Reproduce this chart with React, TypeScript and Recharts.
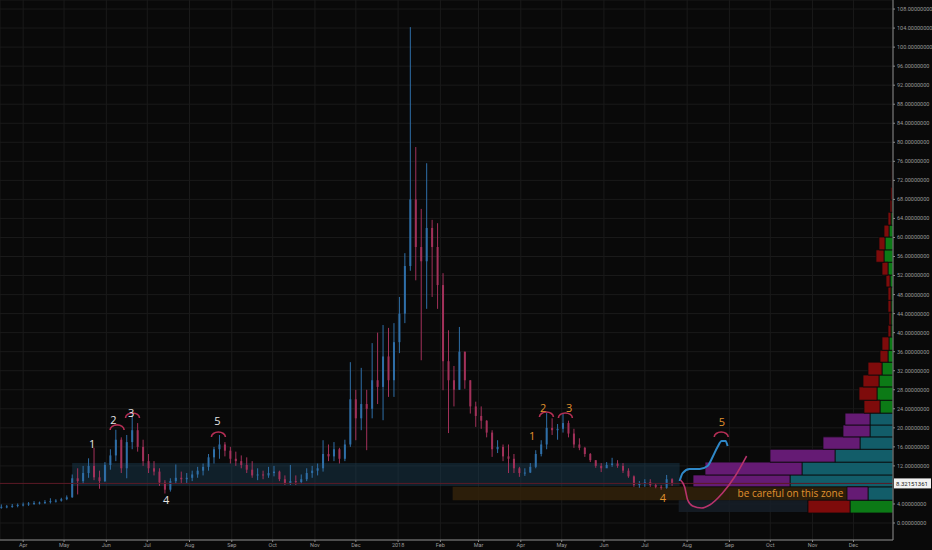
import { ComposedChart, Bar, Line, XAxis, YAxis, CartesianGrid, ReferenceArea, ReferenceLine, ReferenceDot } from 'recharts';

// time axis: days counted from 2017-04-01, one candle every 4 days
const candleStart = -16;
const candleStep = 4;
const firstOpen = 3.3;
const dayDomain = [-17, 638];

const highs = [
  3.9, 3.8, 4.0, 4.1, 4.3, 4.4, 4.6, 4.5, 4.8, 5.2, 5.0, 5.3, 5.8, 10.2, 11.5, 12.0, 13.6, 15.8, 11.0, 12.8,
  15.5, 19.6, 18.0, 18.5, 22.7, 21.0, 17.5, 14.5, 13.0, 11.5, 9.0, 9.4, 12.3, 10.8, 10.5, 11.0, 11.8, 12.5, 14.5, 16.0,
  18.5, 17.0, 16.0, 15.0, 14.2, 13.8, 13.0, 11.5, 11.0, 11.8, 12.0, 11.0, 10.0, 12.2, 10.0, 10.2, 11.5, 12.0, 12.5, 17.4,
  16.5, 17.0, 15.8, 17.5, 33.8, 28.0, 32.6, 28.0, 37.8, 40.0, 41.6, 41.0, 42.0, 47.5, 56.7, 104.2, 79.0, 66.0, 75.6, 63.7,
  63.0, 52.5, 40.5, 33.0, 41.2, 36.0, 30.0, 25.5, 24.5, 21.6, 19.5, 17.4, 16.5, 16.5, 14.5, 11.8, 11.5, 12.6, 15.3, 17.4,
  23.1, 22.0, 20.8, 23.1, 21.5, 19.8, 17.8, 16.0, 14.7, 13.2, 12.6, 12.8, 13.7, 13.2, 12.6, 11.5, 10.0, 8.8, 9.2, 9.2,
  8.4, 8.0, 10.1, 9.4,
];
const lows = [
  3.0, 3.1, 3.2, 3.3, 3.5, 3.6, 3.8, 3.9, 4.0, 4.1, 4.3, 4.5, 4.8, 5.3, 6.0, 8.2, 9.5, 9.0, 7.2, 8.6,
  11.2, 13.0, 10.5, 9.4, 15.5, 15.0, 12.0, 10.5, 10.0, 7.8, 6.2, 6.6, 8.2, 8.4, 8.3, 8.8, 9.5, 10.0, 11.0, 12.5,
  13.5, 14.0, 12.5, 12.0, 11.5, 10.5, 9.5, 9.0, 9.2, 9.5, 9.8, 8.8, 8.0, 8.0, 8.0, 8.2, 8.8, 9.5, 10.0, 10.8,
  13.0, 13.0, 12.5, 13.0, 16.0, 17.4, 19.5, 15.3, 22.0, 25.0, 21.6, 26.5, 26.5, 35.7, 42.0, 53.0, 51.0, 34.2, 45.0, 47.5,
  45.0, 27.9, 18.9, 24.5, 28.0, 28.2, 23.0, 20.2, 19.8, 18.0, 13.9, 14.7, 13.0, 10.5, 10.5, 9.7, 9.9, 10.5, 11.5, 14.0,
  15.5, 18.5, 17.5, 19.0, 18.0, 15.8, 15.3, 13.9, 12.8, 11.6, 10.7, 11.6, 11.8, 11.6, 10.5, 9.5, 7.6, 7.4, 7.6, 7.6,
  7.3, 7.0, 7.2, 7.8,
];
const closes = [
  3.4, 3.5, 3.6, 3.8, 3.9, 4.1, 4.2, 4.3, 4.4, 4.6, 4.7, 5.0, 5.4, 9.4, 8.8, 10.5, 12.0, 9.6, 8.8, 12.2,
  14.2, 17.5, 11.5, 17.0, 19.5, 16.0, 13.0, 11.5, 10.8, 8.5, 7.0, 8.8, 9.5, 9.2, 9.5, 10.2, 11.0, 11.8, 13.8, 15.5,
  16.5, 15.2, 13.5, 13.0, 12.2, 11.2, 10.0, 10.2, 10.0, 10.5, 10.8, 9.2, 8.4, 8.8, 8.6, 9.2, 10.5, 11.0, 11.5, 14.5,
  14.0, 15.5, 13.5, 16.5, 26.0, 22.0, 25.0, 24.0, 30.0, 28.6, 35.0, 30.0, 38.0, 44.0, 54.0, 68.0, 58.0, 55.0, 62.0, 58.0,
  50.0, 34.0, 30.0, 28.0, 36.0, 30.0, 24.5, 22.5, 21.5, 19.0, 15.5, 16.0, 14.0, 13.5, 11.5, 10.5, 10.6, 11.8, 14.5, 16.5,
  20.0, 19.5, 19.8, 21.0, 18.8, 16.5, 15.8, 14.5, 13.2, 12.0, 11.5, 12.2, 12.5, 12.0, 11.0, 9.8, 8.0, 8.2, 8.6, 8.0,
  7.6, 7.4, 9.2, 8.3,
];
const lastPrice = 8.32151361;

const monthTicks = [0, 30, 61, 91, 122, 153, 183, 214, 244, 275, 306, 334, 365, 395, 426, 456, 487, 518, 548, 579, 609];
const monthLabels = ['Apr', 'May', 'Jun', 'Jul', 'Aug', 'Sep', 'Oct', 'Nov', 'Dec', '2018', 'Feb', 'Mar', 'Apr', 'May', 'Jun', 'Jul', 'Aug', 'Sep', 'Oct', 'Nov', 'Dec'];
// 8 is hidden behind the last-price tag
const priceTicks = [0, 4, 12, 16, 20, 24, 28, 32, 36, 40, 44, 48, 52, 56, 60, 64, 68, 72, 76, 80, 84, 88, 92, 96, 100, 104, 108];

// volume profile rows (price bin edges), right-aligned; volume unit = one pixel of width
const profileEdges = [2.1, 4.8, 7.6, 10.1, 12.8, 15.5, 18.1, 20.6, 23.1, 25.8, 28.6, 31.1, 33.8, 36.3, 39.1, 41.6, 44.3, 46.8, 49.6, 52.1, 54.8, 57.4, 60.1, 62.6, 65.3, 67.9, 70.6, 73.2, 75.8];
const profileUp = [43, 25, 103, 91, 58, 33, 23, 23, 13, 16, 14, 11, 5, 4, 2, 2, 2, 2, 3, 5, 9, 8, 4, 2, 1, 0.7, 0.5, 0.5];
const profileDown = [42, 21, 97, 97, 65, 37, 27, 25, 16, 18, 16, 14, 8, 7, 3, 2, 3, 3, 4, 6, 8, 6, 5, 3, 2, 1.5, 1, 1];
const profileSession = ['old', 'new', 'new', 'new', 'new', 'new', 'new', 'new', 'old', 'old', 'old', 'old', 'old', 'old', 'old', 'old', 'old', 'old', 'old', 'old', 'old', 'old', 'old', 'old', 'old', 'old', 'old', 'old'];

// zones [t1, t2, v1, v2]
const blueZone = [35.9, 481.5, 7.8, 12.6];
const brownZone = [315, 638, 4.8, 7.6];
const darkZone = [480.8, 575.3, 2.3, 4.8];

// hand-drawn marks
const whiteNums = ['1', '2', '3', '4', '5'];
const whiteNumT = [50.6, 66.2, 79.2, 104.8, 142.4];
const whiteNumV = [16.8, 21.8, 23.3, 5.0, 21.6];
const orangeNums = ['1', '2', '3', '4', '5'];
const orangeNumT = [373.3, 381.3, 400.4, 469.3, 512.5];
const orangeNumV = [18.3, 24.3, 24.3, 5.4, 21.4];
const arcT = [68.9, 80.2, 143.2, 383.8, 397.7, 512];
const arcV = [20.2, 22.7, 18.7, 22.9, 22.7, 18.7];
const blueCurve = [
  { t: 481.5, v: 8.82 }, { t: 483.7, v: 10.5 }, { t: 488.8, v: 11.34 }, { t: 496.2, v: 11.34 }, { t: 502.0, v: 11.97 },
  { t: 505.7, v: 13.87 }, { t: 509.3, v: 15.97 }, { t: 512.3, v: 17.23 }, { t: 515.2, v: 17.23 }, { t: 516.7, v: 16.18 },
];
const pinkCurve = [
  { t: 482.2, v: 9.03 }, { t: 485.2, v: 7.56 }, { t: 487.4, v: 4.83 }, { t: 491.0, v: 3.57 }, { t: 497.6, v: 3.15 },
  { t: 503.5, v: 3.78 }, { t: 513.0, v: 6.3 }, { t: 521.8, v: 9.66 }, { t: 530.6, v: 14.08 },
];
const zoneNote = { t: 524, v: 6.37, text: 'be careful on this zone' };

const PLOT_W = 893;
const daysPerVol = (dayDomain[1] - dayDomain[0]) / PLOT_W;

const UP = '#2f6fa8';
const DOWN = '#a2315a';
const ORANGE = '#e0922e';

const candles = closes.map((c, i) => ({
  t: candleStart + i * candleStep,
  range: [lows[i], highs[i]],
  open: i === 0 ? firstOpen : closes[i - 1],
  close: c,
}));

const Candle = (props: any) => {
  const { x, y, width, height, payload } = props;
  if (payload == null) return null;
  const [lo, hi] = payload.range;
  const top = Math.min(y, y + height);
  const bot = Math.max(y, y + height);
  const span = hi - lo || 1;
  const toY = (v: number) => top + ((hi - v) / span) * (bot - top);
  const up = payload.close >= payload.open;
  const color = up ? UP : DOWN;
  const cx = x + width / 2;
  const bTop = toY(Math.max(payload.open, payload.close));
  const bBot = toY(Math.min(payload.open, payload.close));
  return (
    <g>
      <line x1={cx} x2={cx} y1={top} y2={bot} stroke={color} strokeWidth={1} />
      <rect x={cx - 1} y={bTop} width={2} height={Math.max(bBot - bTop, 1)} fill={color} />
    </g>
  );
};

const arcShape = (p: any) => (
  <path d={`M ${p.cx - 7} ${p.cy + 3} A 7 5 0 0 1 ${p.cx + 7} ${p.cy + 3}`} fill="none" stroke="#b52f55" strokeWidth={1.6} />
);

const textShape = (text: string, color: string, size: number, anchor: string) => (p: any) => (
  <text x={p.cx} y={p.cy} fill={color} fontSize={size} textAnchor={anchor} dominantBaseline="central" fontFamily="'Open Sans', sans-serif">
    {text}
  </text>
);

const priceBox = (props: any) => {
  const vb = props.viewBox;
  const x = vb.x + vb.width + 1;
  return (
    <g>
      <rect x={x} y={vb.y - 5} width={37} height={10} fill="#f2f2f2" />
      <text x={x + 2} y={vb.y} fontSize={6} fill="#222" dominantBaseline="central">{lastPrice.toFixed(8)}</text>
    </g>
  );
};

export default function App() {
  return (
    <div style={{ position: 'fixed', left: 0, top: 0, width: 932, height: 550, background: '#090909', fontFamily: 'Roboto, sans-serif' }}>
      <ComposedChart width={932} height={550} data={candles} margin={{ top: 0, right: 0, left: 0, bottom: 0 }}>
        <CartesianGrid stroke="#1a1a1a" strokeWidth={1} />
        <XAxis
          dataKey="t"
          type="number"
          domain={dayDomain}
          allowDataOverflow
          ticks={monthTicks}
          tickFormatter={(v: number) => monthLabels[monthTicks.indexOf(v)] ?? ''}
          height={10}
          tick={{ fontSize: 5.5, fill: '#9a9a9a' }}
          tickSize={2}
          tickMargin={1}
          stroke="#8a8a8a"
          interval={0}
        />
        <YAxis
          orientation="right"
          type="number"
          domain={[-3.57, 109.9]}
          allowDataOverflow
          ticks={priceTicks}
          tickFormatter={(v: number) => v.toFixed(8)}
          width={39}
          tick={{ fontSize: 5.5, fill: '#9a9a9a' }}
          tickSize={2}
          tickMargin={2}
          stroke="#8a8a8a"
          interval={0}
        />
        <ReferenceArea x1={blueZone[0]} x2={blueZone[1]} y1={blueZone[2]} y2={blueZone[3]} fill="#1b4058" fillOpacity={0.42} stroke="none" />
        <ReferenceArea x1={brownZone[0]} x2={brownZone[1]} y1={brownZone[2]} y2={brownZone[3]} fill="#33220a" fillOpacity={0.85} stroke="none" />
        <ReferenceArea x1={darkZone[0]} x2={darkZone[1]} y1={darkZone[2]} y2={darkZone[3]} fill="#161e27" fillOpacity={0.9} stroke="none" />
        <ReferenceLine y={lastPrice} stroke="#5c1a26" strokeWidth={1} label={priceBox} />
        <Bar dataKey="range" barSize={5} shape={Candle} isAnimationActive={false} />
        {profileUp.map((u, i) => (
          <ReferenceArea
            key={`pu${i}`}
            x1={dayDomain[1] - u * daysPerVol}
            x2={dayDomain[1]}
            y1={profileEdges[i]}
            y2={profileEdges[i + 1]}
            fill={profileSession[i] === 'new' ? '#125d69' : '#0c7a16'}
            fillOpacity={1}
            stroke="#0a0a0a"
            strokeWidth={0.8}
          />
        ))}
        {profileDown.map((d, i) => (
          <ReferenceArea
            key={`pd${i}`}
            x1={dayDomain[1] - (profileUp[i] + d) * daysPerVol}
            x2={dayDomain[1] - profileUp[i] * daysPerVol}
            y1={profileEdges[i]}
            y2={profileEdges[i + 1]}
            fill={profileSession[i] === 'new' ? '#651b74' : '#7e0b0b'}
            fillOpacity={1}
            stroke="#0a0a0a"
            strokeWidth={0.8}
          />
        ))}
        <Line data={blueCurve} dataKey="v" type="monotone" stroke="#2f88c8" strokeWidth={2} dot={false} activeDot={false} isAnimationActive={false} />
        <Line data={pinkCurve} dataKey="v" type="monotone" stroke="#b8336c" strokeWidth={1.6} dot={false} activeDot={false} isAnimationActive={false} />
        {arcT.map((t, i) => (
          <ReferenceDot key={`a${i}`} x={t} y={arcV[i]} r={1} shape={arcShape} />
        ))}
        {whiteNums.map((s, i) => (
          <ReferenceDot key={`w${i}`} x={whiteNumT[i]} y={whiteNumV[i]} r={1} shape={textShape(s, '#e6e6e6', 11, 'middle')} />
        ))}
        {orangeNums.map((s, i) => (
          <ReferenceDot key={`o${i}`} x={orangeNumT[i]} y={orangeNumV[i]} r={1} shape={textShape(s, ORANGE, 11, 'middle')} />
        ))}
        <ReferenceDot x={zoneNote.t} y={zoneNote.v} r={1} shape={textShape(zoneNote.text, ORANGE, 10, 'start')} />
      </ComposedChart>
    </div>
  );
}
